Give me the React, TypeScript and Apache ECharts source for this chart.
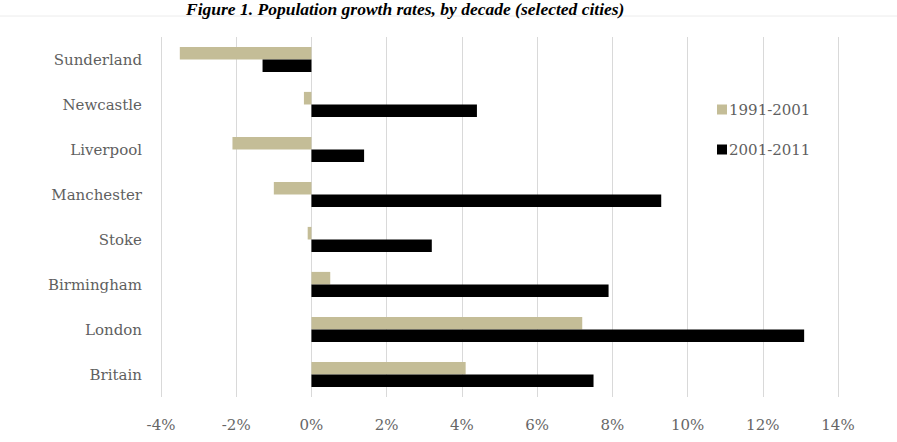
import React, { useEffect, useRef } from "react";
import * as echarts from "echarts";

const cities = ["Sunderland", "Newcastle", "Liverpool", "Manchester", "Stoke", "Birmingham", "London", "Britain"];
const growth1991 = [-3.5, -0.2, -2.1, -1.0, -0.1, 0.5, 7.2, 4.1];
const growth2001 = [-1.3, 4.4, 1.4, 9.3, 3.2, 7.9, 13.1, 7.5];
const seriesNames = ["1991-2001", "2001-2011"];
const titleText = "Figure 1. Population growth rates, by decade (selected cities)";

const FONT = "'DejaVu Serif', serif";

export default function App() {
  const ref = useRef<HTMLDivElement>(null);
  useEffect(() => {
    document.body.style.margin = "0";
    if (!ref.current) return;
    const chart = echarts.init(ref.current, null, { renderer: "svg" });
    chart.setOption({
      animation: false,
      backgroundColor: "#ffffff",
      title: {
        text: titleText,
        left: 181,
        top: -5,
        textStyle: {
          fontFamily: "'Liberation Serif', 'Times New Roman', serif",
          fontStyle: "italic",
          fontWeight: "bold",
          fontSize: 17.5,
          color: "#000000",
        },
      },
      graphic: [
        { type: "line", shape: { x1: 0, y1: 16, x2: 897, y2: 16 }, style: { stroke: "#ececec", lineWidth: 1 }, z: -1 },
      ],
      legend: {
        orient: "vertical",
        left: 712,
        top: 97,
        itemGap: 25,
        itemWidth: 10,
        itemHeight: 10,
        icon: "rect",
        data: seriesNames,
        textStyle: { fontFamily: FONT, fontSize: 15, color: "#5f5f5f", padding: [0, 0, 0, -3] },
      },
      grid: { left: 161, right: 59, top: 37, bottom: 45 },
      xAxis: {
        type: "value",
        min: -4,
        max: 14,
        interval: 2,
        axisLine: { show: false },
        axisTick: { show: false },
        splitLine: { lineStyle: { color: "#d9d9d9", width: 1 } },
        axisLabel: {
          formatter: (v: number) => v + "%",
          fontFamily: FONT,
          fontSize: 15,
          color: "#666666",
          margin: 20,
        },
      },
      yAxis: {
        type: "category",
        data: cities,
        inverse: true,
        axisLine: { show: false },
        axisTick: { show: false },
        axisLabel: { fontFamily: FONT, fontSize: 15, color: "#5f5f5f", margin: 19 },
      },
      series: [
        {
          name: seriesNames[0],
          type: "bar",
          data: growth1991,
          itemStyle: { color: "#c4bd97" },
          barGap: "0%",
          barCategoryGap: "44%",
        },
        {
          name: seriesNames[1],
          type: "bar",
          data: growth2001,
          itemStyle: { color: "#000000" },
          barGap: "0%",
          barCategoryGap: "44%",
        },
      ],
    });
    return () => chart.dispose();
  }, []);
  return <div ref={ref} style={{ width: 897, height: 442 }} />;
}
